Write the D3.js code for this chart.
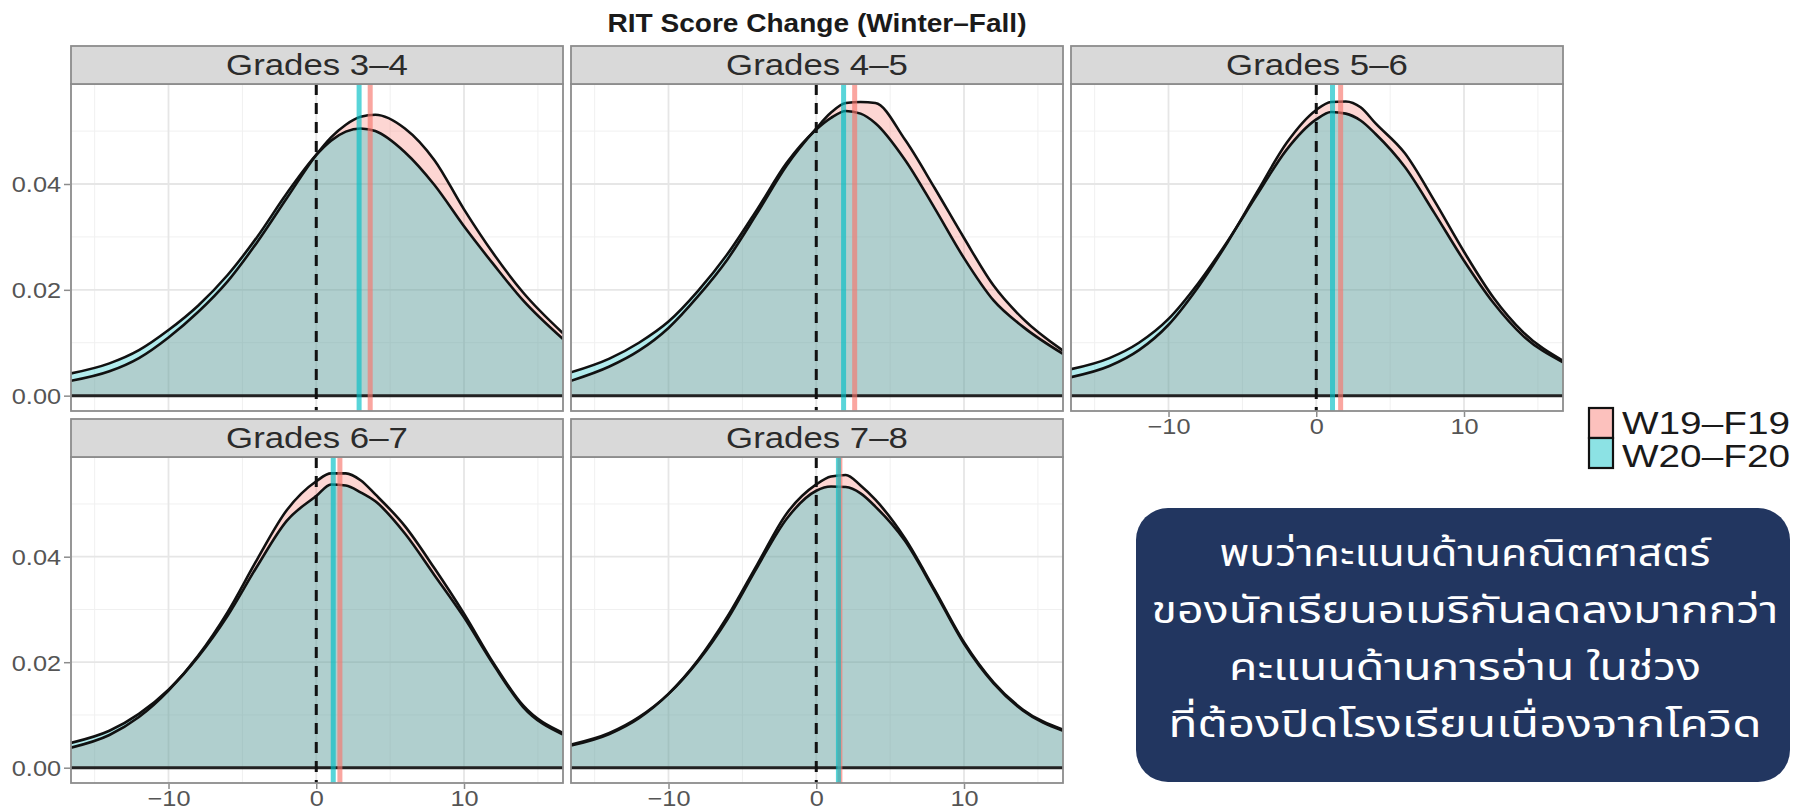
<!DOCTYPE html>
<html>
<head>
<meta charset="utf-8">
<script src="https://cdn.jsdelivr.net/npm/d3@7"></script>
<style>
  body { margin: 0; background: #ffffff; }
  svg text { font-family: "Liberation Sans", Arial, Helvetica, sans-serif; }
</style>
</head>
<body>
<div id="chart"></div>
<script>
// score change grid where the densities were read
const xGrid = [-16.6, -14, -12, -10, -8, -6, -4, -2, 0, 1, 2, 3, 4, 6, 8, 10, 12, 14, 16.7];

const grades = ["Grades 3–4", "Grades 4–5", "Grades 5–6", "Grades 6–7", "Grades 7–8"];
const seriesNames = ["W19–F19", "W20–F20"];

// density, W19-F19 (one row per grade band)
const densW19 = [
  [.0028, .0046, .0071, .0110, .0158, .0216, .0290, .0373, .0455, .0488, .0512, .0527, .0531, .0505, .0445, .0352, .0268, .0195, .0118],
  [.0028, .0055, .0085, .0128, .0188, .0258, .0345, .0435, .0505, .0535, .0553, .0555, .0553, .0484, .0393, .0298, .0208, .0145, .0085],
  [.0035, .0056, .0086, .0134, .0205, .0290, .0385, .0478, .0540, .0555, .0556, .0545, .0515, .0458, .0368, .0272, .0185, .0120, .0066],
  [.0038, .0062, .0096, .0146, .0212, .0295, .0395, .0488, .0543, .0558, .0558, .0545, .0518, .0458, .0378, .0292, .0198, .0118, .0066],
  [.0042, .0064, .0094, .0140, .0204, .0287, .0385, .0482, .0537, .0552, .0555, .0535, .0508, .0435, .0338, .0238, .0162, .0110, .0072]
];
// density, W20-F20
const densW20 = [
  [.0042, .0061, .0086, .0124, .0170, .0228, .0300, .0382, .0455, .0482, .0499, .0505, .0500, .0460, .0398, .0320, .0248, .0180, .0107],
  [.0044, .0070, .0100, .0140, .0198, .0268, .0352, .0440, .0503, .0525, .0538, .0533, .0515, .0446, .0355, .0260, .0180, .0130, .0079],
  [.0050, .0071, .0100, .0145, .0212, .0292, .0380, .0465, .0522, .0536, .0533, .0520, .0495, .0432, .0345, .0255, .0175, .0113, .0063],
  [.0047, .0070, .0102, .0148, .0210, .0288, .0382, .0468, .0515, .0537, .0535, .0522, .0505, .0444, .0365, .0285, .0195, .0115, .0063],
  [.0044, .0066, .0096, .0140, .0202, .0282, .0380, .0472, .0525, .0533, .0532, .0520, .0495, .0430, .0335, .0235, .0160, .0108, .0070]
];

const meanW19 = [3.65, 2.6, 1.65, 1.6, 1.6];
const meanW20 = [2.9, 1.85, 1.1, 1.15, 1.5];

const xTicks = [-10, 0, 10];
const xMinor = [-15, -5, 5, 15];
const yTicks = [0, 0.02, 0.04];
const yMinor = [0.01, 0.03, 0.05];

const title = "RIT Score Change (Winter–Fall)";
const noteLines = [
  "พบว่าคะแนนด้านคณิตศาสตร์",
  "ของนักเรียนอเมริกันลดลงมากกว่า",
  "คะแนนด้านการอ่าน ในช่วง",
  "ที่ต้องปิดโรงเรียนเนื่องจากโควิด"
];
const noteWidths = [491, 627, 472, 593];

const width = 1805, height = 811;
const colX = [71, 571, 1071];
const panelW = 492;
const stripTop = [46, 419];
const stripH = 38;
const plotBottom = [411, 783];
const colors = ["#F8766D", "#00BFC4"];
const sx = 1.15; // the picture is a little wider than tall

const svg = d3.select("#chart").append("svg")
    .attr("width", width)
    .attr("height", height);

svg.append("rect").attr("width", width).attr("height", height).attr("fill", "#ffffff");

// title
svg.append("text")
    .attr("x", 817).attr("y", 32)
    .attr("text-anchor", "middle")
    .attr("font-size", 26).attr("font-weight", "bold")
    .attr("fill", "#1a1a1a")
    .attr("textLength", 419).attr("lengthAdjust", "spacingAndGlyphs")
    .text(title);

const xScale = (left) => d3.scaleLinear().domain([-16.6, 16.7]).range([left, left + panelW]);

grades.forEach((grade, i) => {
    const col = i % 3, row = Math.floor(i / 3);
    const left = colX[col];
    const top = stripTop[row] + stripH;
    const bottom = plotBottom[row];
    const x = xScale(left);
    const y = d3.scaleLinear().domain([-0.0029, 0.0589]).range([bottom, top]);

    const g = svg.append("g");
    g.append("clipPath").attr("id", "clip" + i)
        .append("rect").attr("x", left).attr("y", top).attr("width", panelW).attr("height", bottom - top);

    const inner = g.append("g").attr("clip-path", "url(#clip" + i + ")");

    // grid
    inner.selectAll(".minx").data(xMinor).join("line")
        .attr("x1", d => x(d)).attr("x2", d => x(d)).attr("y1", top).attr("y2", bottom)
        .attr("stroke", "#f0f0f0").attr("stroke-width", 1);
    inner.selectAll(".miny").data(yMinor).join("line")
        .attr("x1", left).attr("x2", left + panelW).attr("y1", d => y(d)).attr("y2", d => y(d))
        .attr("stroke", "#f0f0f0").attr("stroke-width", 1);
    inner.selectAll(".majx").data(xTicks).join("line")
        .attr("x1", d => x(d)).attr("x2", d => x(d)).attr("y1", top).attr("y2", bottom)
        .attr("stroke", "#e6e6e6").attr("stroke-width", 1.8);
    inner.selectAll(".majy").data(yTicks).join("line")
        .attr("x1", left).attr("x2", left + panelW).attr("y1", d => y(d)).attr("y2", d => y(d))
        .attr("stroke", "#e6e6e6").attr("stroke-width", 1.8);

    // densities
    const series = [densW19[i], densW20[i]].map(vals => xGrid.map((xv, k) => ({x: xv, y: vals[k]})));
    const area = d3.area().x(d => x(d.x)).y0(y(0)).y1(d => y(d.y)).curve(d3.curveMonotoneX);
    const line = d3.line().x(d => x(d.x)).y(d => y(d.y)).curve(d3.curveMonotoneX);

    series.forEach((s, k) => {
        inner.append("path").datum(s).attr("d", area)
            .attr("fill", colors[k]).attr("fill-opacity", 0.3);
    });
    series.forEach(s => {
        inner.append("path").datum(s).attr("d", line)
            .attr("fill", "none").attr("stroke", "#111").attr("stroke-width", 2.6);
    });
    inner.append("line")
        .attr("x1", left).attr("x2", left + panelW).attr("y1", y(0)).attr("y2", y(0))
        .attr("stroke", "#222").attr("stroke-width", 3);

    // zero line and means
    inner.append("line")
        .attr("x1", x(0)).attr("x2", x(0)).attr("y1", top).attr("y2", bottom)
        .attr("stroke", "#111").attr("stroke-width", 3).attr("stroke-dasharray", "11,8");
    [meanW19[i], meanW20[i]].forEach((m, k) => {
        inner.append("line")
            .attr("x1", x(m)).attr("x2", x(m)).attr("y1", top).attr("y2", bottom)
            .attr("stroke", colors[k]).attr("stroke-opacity", 0.65).attr("stroke-width", 5);
    });

    // border
    g.append("rect").attr("x", left).attr("y", top).attr("width", panelW).attr("height", bottom - top)
        .attr("fill", "none").attr("stroke", "#8c8c8c").attr("stroke-width", 1.8);

    // strip
    g.append("rect").attr("x", left).attr("y", stripTop[row]).attr("width", panelW).attr("height", stripH)
        .attr("fill", "#d9d9d9").attr("stroke", "#8c8c8c").attr("stroke-width", 1.8);
    g.append("text")
        .attr("transform", "translate(" + (left + panelW / 2) + "," + (stripTop[row] + 29) + ") scale(1.2,1)")
        .attr("text-anchor", "middle").attr("font-size", 29).attr("fill", "#2b2b2b")
        .text(grade);

    // axes
    if (col === 0) {
        const ya = g.append("g").attr("transform", "translate(" + (left - 1) + ",0)")
            .call(d3.axisLeft(y).tickValues(yTicks).tickSize(6).tickPadding(3).tickFormat(d3.format(".2f")));
        ya.select(".domain").remove();
        ya.selectAll("line").attr("stroke", "#8c8c8c").attr("stroke-width", 1.5);
        ya.selectAll("text").attr("font-size", 22).attr("fill", "#555")
            .attr("font-family", "Liberation Sans, Arial, sans-serif")
            .attr("x", -9 / sx).attr("dy", "0.36em")
            .attr("transform", "scale(" + sx + ",1)");
    }
    if (i >= 2) {
        const xa = g.append("g").attr("transform", "translate(0," + (bottom + 1) + ")")
            .call(d3.axisBottom(x).tickValues(xTicks).tickSize(5).tickPadding(1));
        xa.select(".domain").remove();
        xa.selectAll("line").attr("stroke", "#8c8c8c").attr("stroke-width", 1.5);
        xa.selectAll("text").attr("font-size", 22).attr("fill", "#555")
            .attr("font-family", "Liberation Sans, Arial, sans-serif")
            .attr("transform", "scale(" + sx + ",1)");
    }
});

// legend
const legend = svg.append("g").attr("transform", "translate(1589,408)");
seriesNames.forEach((name, k) => {
    legend.append("rect").attr("x", 0).attr("y", k * 30).attr("width", 24).attr("height", 30)
        .attr("fill", "#ffffff").attr("stroke", "none");
    legend.append("rect").attr("x", 0).attr("y", k * 30).attr("width", 24).attr("height", 30)
        .attr("fill", colors[k]).attr("fill-opacity", 0.45)
        .attr("stroke", "#111").attr("stroke-width", 2.2);
    legend.append("text").attr("x", 33).attr("y", 26 + k * 33)
        .attr("font-size", 31).attr("fill", "#1a1a1a")
        .attr("textLength", 168).attr("lengthAdjust", "spacingAndGlyphs")
        .text(name);
});

// note box
svg.append("rect")
    .attr("x", 1136).attr("y", 508).attr("width", 654).attr("height", 274)
    .attr("rx", 32).attr("fill", "#223660");
svg.append("g").selectAll("text").data(noteLines).join("text")
    .attr("x", 1465)
    .attr("y", (d, k) => 566 + k * 57)
    .attr("text-anchor", "middle")
    .attr("font-size", 38)
    .attr("fill", "#ffffff")
    .attr("textLength", (d, k) => noteWidths[k])
    .attr("lengthAdjust", "spacingAndGlyphs")
    .style("font-family", "'Noto Sans Thai', 'Noto Sans Thai Looped', 'Noto Sans', sans-serif")
    .text(d => d);
</script>
</body>
</html>
